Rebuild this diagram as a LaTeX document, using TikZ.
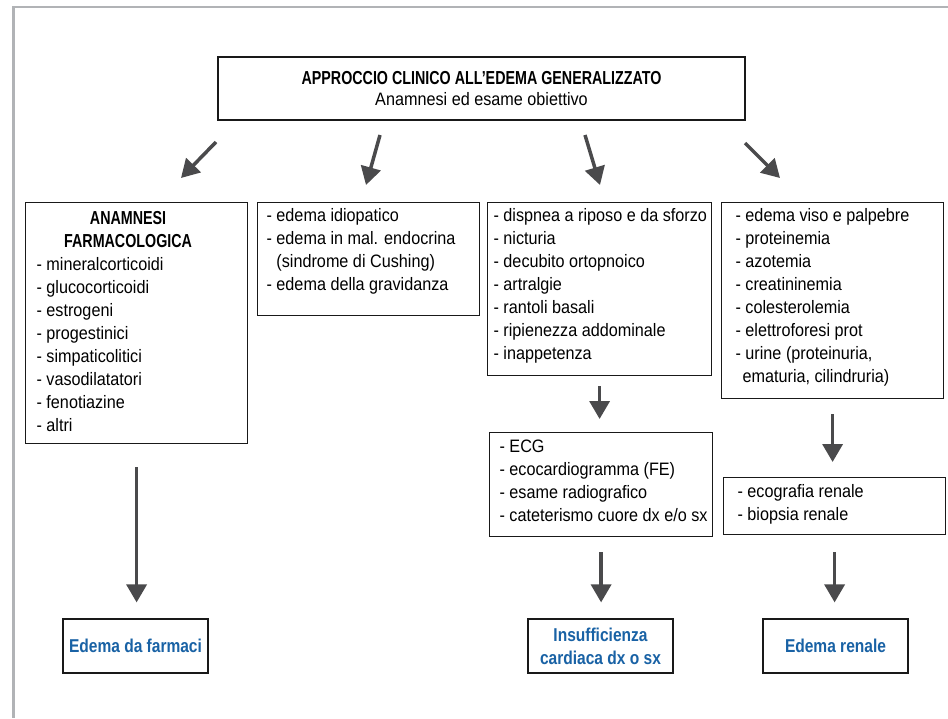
\documentclass[tikz,border=0pt]{standalone}
\usepackage{fontspec}
\setmainfont{Liberation Sans}[FakeStretch=0.9]
\newfontfamily\condbold{Liberation Sans}[FakeStretch=0.76]
\newfontfamily\bluefont{Liberation Sans}[FakeStretch=0.835]
\usetikzlibrary{arrows.meta}
\definecolor{framegrey}{HTML}{B1B3B6}
\definecolor{arrgrey}{HTML}{4A4A4C}
\definecolor{outblue}{RGB}{25,98,165}
\newcommand\lbox[5]{\parbox[t][#1][t]{#2}{\parindent=0pt\leftskip=#3\relax\rightskip=0pt plus 1fil\relax\fontsize{18}{23}\selectfont\vspace*{#4}\rule{0pt}{16pt}#5\par}}
\newcommand\ind{\phantom{- }}
\begin{document}
\begin{tikzpicture}[x=1pt,y=-1pt,
  listbox/.style={draw=black!90,line width=1.2pt,inner sep=0pt,anchor=north west},
  outbox/.style={draw=black!90,line width=1.2pt,inner sep=0pt,minimum width=145pt,minimum height=54pt,align=center,text=outblue,font=\bluefont\bfseries\fontsize{18.6}{23}\selectfont},
  arr/.style={draw=arrgrey,line width=3.5pt,-{Triangle[width=20pt,length=18pt]}}]
\useasboundingbox[fill=white] (0,0) rectangle (948,718);
\draw[framegrey,line width=2.5pt] (948,7) -- (13.5,7) -- (13.5,718);

% top box
\node[draw=black!90,line width=1.2pt,minimum width=527pt,minimum height=63pt,align=center,inner sep=0pt,font=\fontsize{18}{21.2}\selectfont]
  (top) at (481.5,88.5) {{\condbold\bfseries\fontsize{18.8}{21.2}\selectfont APPROCCIO CLINICO ALL’EDEMA GENERALIZZATO}\\Anamnesi ed esame obiettivo};

% second row boxes
\node[listbox] (A) at (25,202) {\lbox{241pt}{222pt}{11pt}{6pt}{%
\makebox[183pt]{\condbold\bfseries\fontsize{18.8}{23}\selectfont ANAMNESI}\\
\makebox[183pt]{\condbold\bfseries\fontsize{18.8}{23}\selectfont FARMACOLOGICA}\\
- mineralcorticoidi\\
- glucocorticoidi\\
- estrogeni\\
- progestinici\\
- simpaticolitici\\
- vasodilatatori\\
- fenotiazine\\
- altri}};

\node[listbox] (B) at (257,202) {\lbox{113pt}{222pt}{9pt}{3.3pt}{%
- edema idiopatico\\
- edema in mal. endocrina\\
\ind(sindrome di Cushing)\\
- edema della gravidanza}};

\node[listbox] (C) at (487,202) {\lbox{173pt}{224pt}{6pt}{3.3pt}{%
- dispnea a riposo e da sforzo\\
- nicturia\\
- decubito ortopnoico\\
- artralgie\\
- rantoli basali\\
- ripienezza addominale\\
- inappetenza}};

\node[listbox] (D) at (721,202) {\lbox{196pt}{222pt}{14pt}{3.3pt}{%
- edema viso e palpebre\\
- proteinemia\\
- azotemia\\
- creatininemia\\
- colesterolemia\\
- elettroforesi prot\\
- urine (proteinuria,\\
\hspace*{7pt}ematuria, cilindruria)}};

% third row boxes
\node[listbox] (E) at (489,432) {\lbox{104pt}{223pt}{10pt}{4.3pt}{%
- ECG\\
- ecocardiogramma (FE)\\
- esame radiografico\\
- cateterismo cuore dx e/o sx}};

\node[listbox] (F) at (723,477) {\lbox{57pt}{222pt}{14pt}{4.3pt}{%
- ecografia renale\\
- biopsia renale}};

% outcome boxes
\node[outbox] (G) at (135.5,646) {Edema da farmaci};
\node[outbox] (H) at (600.5,646) {Insufficienza\\cardiaca dx o sx};
\node[outbox] (I) at (835.5,646) {Edema renale};

% top arrows
\coordinate (a1s) at (216,142); \coordinate (a1e) at (181,178);
\coordinate (a2s) at (380,135); \coordinate (a2e) at (366,185);
\coordinate (a3s) at (585,135); \coordinate (a3e) at (600,185);
\coordinate (a4s) at (745,143); \coordinate (a4e) at (780,178);
\draw[arr] (a1s) -- (a1e);
\draw[arr] (a2s) -- (a2e);
\draw[arr] (a3s) -- (a3e);
\draw[arr] (a4s) -- (a4e);

% vertical arrows
\draw[arr,shorten <=10pt,shorten >=13pt] (C.south) -- (C.south |- E.north);
\draw[arr,shorten <=15pt,shorten >=15pt] (D.south) -- (D.south |- F.north);
\draw[arr,shorten <=23pt,shorten >=16pt] (A.south) -- (A.south |- G.north);
\draw[arr,shorten <=15pt,shorten >=16pt] (E.south) -- (E.south |- H.north);
\draw[arr,shorten <=17pt,shorten >=16pt] (F.south) -- (F.south |- I.north);
\end{tikzpicture}
\end{document}
